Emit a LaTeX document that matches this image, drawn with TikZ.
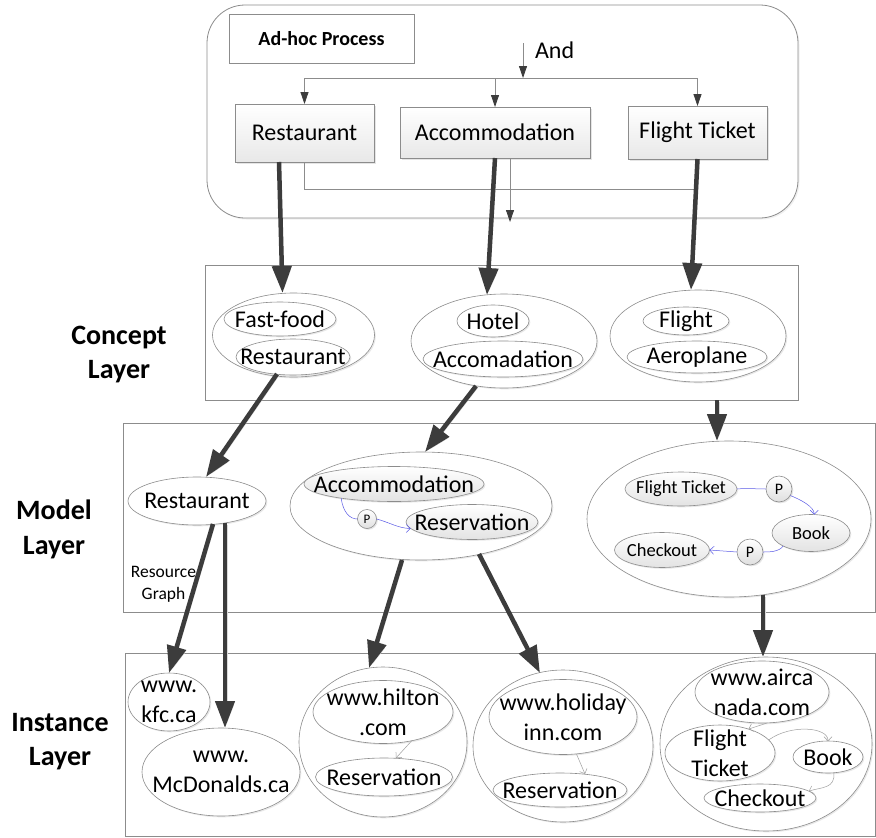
\documentclass[tikz,border=0pt]{standalone}
\usepackage{fontspec}
\setmainfont{Carlito}
\usetikzlibrary{arrows.meta,calc,shapes.geometric,shadows}

\definecolor{edge}{HTML}{8C8C8C}
\definecolor{heavy}{HTML}{3C3C3C}
\definecolor{link}{HTML}{5A5AE6}

% ellipse with its caption in a separate node, so the text never widens it
\newcommand\ovl[6][oval]{%
  \node[#1,minimum width=#4pt,minimum height=#5pt] (#2) at (#3) {};
  \node[txt] (#2-t) at (#2.center) {#6};}
\newcommand\sovl[6][soval]{%
  \node[#1,minimum width=#4pt,minimum height=#5pt] (#2) at (#3) {};
  \node[stxt] (#2-t) at (#2.center) {#6};}

\tikzset{
  layer/.style={draw=edge, line width=0.8pt, rectangle},
  task/.style={draw=edge, line width=0.8pt, rectangle, top color=white, bottom color=gray!18,
    drop shadow={shadow xshift=2pt, shadow yshift=-2pt, opacity=0.2},
    font=\fontsize{24}{29}\selectfont},
  oval/.style={ellipse, draw=edge, line width=0.6pt, fill=white,
    drop shadow={shadow xshift=1.3pt, shadow yshift=-1.3pt, opacity=0.18}},
  soval/.style={oval, top color=white, bottom color=gray!22},
  pnode/.style={circle, draw=edge, line width=0.6pt, top color=white, bottom color=gray!25,
    drop shadow={shadow xshift=1.3pt, shadow yshift=-1.3pt, opacity=0.2}},
  txt/.style={font=\fontsize{24}{30}\selectfont, align=center},
  stxt/.style={font=\fontsize{18.5}{22}\selectfont, align=center},
  lab/.style={font=\fontsize{28}{34.5}\selectfont\bfseries, align=center},
  wire/.style={draw=edge, line width=0.8pt},
  flow/.style={wire, -{Triangle[length=12pt,width=8pt,color=heavy]}},
  heavyarrow/.style={draw=heavy, line width=4.5pt, -{Triangle[length=27pt,width=19pt]},
    preaction={draw=black!15, transform canvas={shift={(1.8pt,-1.8pt)}}}},
  plink/.style={draw=link, line width=0.5pt},
  plinkarrow/.style={plink, -{Straight Barb[length=4pt,width=8pt]}},
  glink/.style={draw=gray!75, line width=0.5pt, -{Straight Barb[length=4pt,width=8pt]}},
}

\begin{document}
\begin{tikzpicture}[x=1pt,y=-1pt, every node/.style={inner sep=0pt,outer sep=0pt}]
\useasboundingbox (0,0) rectangle (876,838);

% ---------------- ad-hoc process ----------------
\node[draw=edge, line width=0.8pt, rounded corners=38pt, fill=white,
      drop shadow={shadow xshift=1.5pt, shadow yshift=-1.5pt, opacity=0.12},
      minimum width=591pt, minimum height=213pt] (proc) at (502.5,111.5) {};
\node[draw=edge, line width=0.8pt, minimum width=185pt, minimum height=49pt,
      font=\fontsize{20}{24}\selectfont\bfseries] (adhoc) at (321.5,38.5) {Ad-hoc Process};

\node[task, minimum width=139pt, minimum height=58pt] (trest) at (304.5,133) {Restaurant};
\node[task, minimum width=190pt, minimum height=51pt] (tacc) at (495,132.5) {Accommodation};
\node[task, minimum width=139pt, minimum height=53pt] (tfl) at (697.5,132.5) {Flight Ticket};

\coordinate (andtop) at (523,43);
\coordinate (split) at (523,78);
\coordinate (joinrow) at (0,189);
\coordinate (procout) at (510,222);
\node[anchor=west, font=\fontsize{24}{29}\selectfont] (andlbl) at (535,50) {And};

\draw[flow] (andtop) -- (split);
\draw[wire] (trest.north |- split) -- (tfl.north |- split);
\draw[flow] (trest.north |- split) -- (trest.north);
\draw[flow] (tacc.north |- split) -- (tacc.north);
\draw[flow] (tfl.north |- split) -- (tfl.north);
\draw[wire] (trest.south) -- (trest.south |- joinrow) -- (tfl.south |- joinrow) -- (tfl.south);
\draw[flow] (tacc.south -| procout) -- (procout);

% ---------------- concept layer ----------------
\node[layer, minimum width=593pt, minimum height=135pt] (clayer) at (501.5,332.5) {};
\node[lab] (clab) at (119,354.5) {Concept\\Layer};

\node[oval, minimum width=162pt, minimum height=84pt] (cl) at (293.5,335) {};
\ovl{cl1}{280,319}{112}{34}{Fast-food}
\ovl{cl2}{293,357}{114}{36}{Restaurant}

\node[oval, minimum width=186pt, minimum height=94pt] (cm) at (504,341) {};
\ovl{cm1}{493,321}{72}{32}{Hotel}
\ovl{cm2}{503,359}{160}{36}{Accomadation}

\node[oval, minimum width=176pt, minimum height=92pt] (cr) at (698,336) {};
\ovl{cr1}{686,321}{86}{28}{Flight}
\ovl{cr2}{697,357}{140}{32}{Aeroplane}

% ---------------- model layer ----------------
\node[layer, minimum width=752.5pt, minimum height=189pt] (mlayer) at (499.25,517.5) {};
\node[lab] (mlab) at (54,529.5) {Model\\Layer};
\node[font=\fontsize{17.5}{22}\selectfont, align=center] (rgraph) at (163.5,584) {Resource\\Graph};

\ovl{mrest}{197,501}{138}{48}{Restaurant}

\node[oval, minimum width=262pt, minimum height=108pt] (ma) at (421,506) {};
\ovl[soval]{ma1}{394,484}{180}{35}{Accommodation}
\ovl[soval]{ma2}{472,522}{132}{35}{Reservation}
\node[pnode, minimum size=19pt, font=\fontsize{13}{15}\selectfont] (pA) at (367,519) {P};

\node[oval, minimum width=284pt, minimum height=156pt] (mr) at (729,519) {};
\sovl{mf}{681,489}{112}{34}{Flight Ticket}
\sovl{mbook}{811,533}{78}{37}{Book}
\sovl{mchk}{662,550}{95}{35}{Checkout}
\node[pnode, minimum size=26pt, font=\fontsize{16}{18}\selectfont] (pB) at (779,489) {P};
\node[pnode, minimum size=26pt, font=\fontsize{16}{18}\selectfont] (pC) at (750,552) {P};

\draw[plink] (ma1.195) .. controls +(2,14) and +(-8,0) .. (pA.west);
\draw[plinkarrow] (pA.east) .. controls +(12,3) and +(-12,0) .. (ma2.186);
\draw[plink] (mf.east) .. controls +(10,-1) and +(-10,0) .. (pB.west);
\draw[plinkarrow] (pB.-30) .. controls +(10,4) and +(0,-8) .. (mbook.80);
\draw[plink] (mbook.205) .. controls +(-4,6) and +(6,0) .. (pC.east);
\draw[plinkarrow] (pC.west) -- (mchk.east);

% ---------------- instance layer ----------------
\node[layer, minimum width=750.5pt, minimum height=183pt] (ilayer) at (500.25,744.5) {};
\node[lab] (ilab) at (60,741.5) {Instance\\Layer};

\ovl{ikfc}{169,702}{82}{58}{www.\\kfc.ca}
\ovl{imcd}{221,772}{158}{88}{www.\\McDonalds.ca}

\node[oval, minimum width=168pt, minimum height=150pt] (ihil) at (383,742) {};
\ovl{ihil1}{383,712}{140}{63}{www.hilton\\.com}
\ovl{ihil2}{384,777}{137}{38}{Reservation}

\node[oval, minimum width=180pt, minimum height=152pt] (ihol) at (563,746) {};
\ovl{ihol1}{563,717}{148}{75}{www.holiday\\inn.com}
\ovl{ihol2}{560,790}{134}{34}{Reservation}

\node[oval, minimum width=212pt, minimum height=174pt] (iair) at (766,744) {};
\ovl{iair1}{762,692}{134}{62}{www.airca\\nada.com}
\ovl{iair2}{720,753}{110}{56}{Flight\\Ticket}
\ovl{iair3}{828,757}{70}{32}{Book}
\ovl{iair4}{760,798}{112}{28}{Checkout}

\draw[glink] (ihil1.-45) -- ($(ihil2.north)+(12,0)$);
\draw[glink] (ihol1.-70) -- ($(ihol2.north)+(25,1)$);
\draw[glink] (iair1.-80) -- (iair2.40);
\draw[glink] (iair2.15) .. controls +(22,-16) and +(0,-14) .. (iair3.north);
\draw[glink] (iair3.-70) .. controls +(2,16) and +(12,-4) .. (iair4.8);

% ---------------- refinement arrows between layers ----------------
\draw[heavyarrow] ($(trest.south)+(-25.5,0)$) -- ($(cl.north)+(-11,0)$);
\draw[heavyarrow] (tacc.south) -- ($(cm.north)+(-17,1)$);
\draw[heavyarrow] (tfl.south) -- ($(cr.north)+(-7,0)$);

\draw[heavyarrow] ($(cl2.south)+(-16,-1)$) -- ($(mrest.north)+(9,0)$);
\draw[heavyarrow] ($(cm.south)+(-28,-2)$) -- ($(ma.north)+(4,0)$);
\coordinate (mrin) at ($(mr.north)+(-12,0)$);
\draw[heavyarrow] (clayer.south -| mrin) -- (mrin);

\draw[heavyarrow] ($(mrest.south)+(16,-1)$) -- (ikfc.north);
\coordinate (mcdout) at ($(mrest.south)+(28,-2)$);
\draw[heavyarrow] (mcdout) -- (mcdout |- imcd.north);
\draw[heavyarrow] ($(ma.south)+(-19,0)$) -- ($(ihil.north)+(-14,1)$);
\draw[heavyarrow] ($(ma.south)+(58,-6)$) -- ($(ihol.north)+(-23,3)$);
\coordinate (airout) at ($(mr.south)+(34,-2)$);
\draw[heavyarrow] (airout) -- (airout |- iair.north);
\end{tikzpicture}
\end{document}
